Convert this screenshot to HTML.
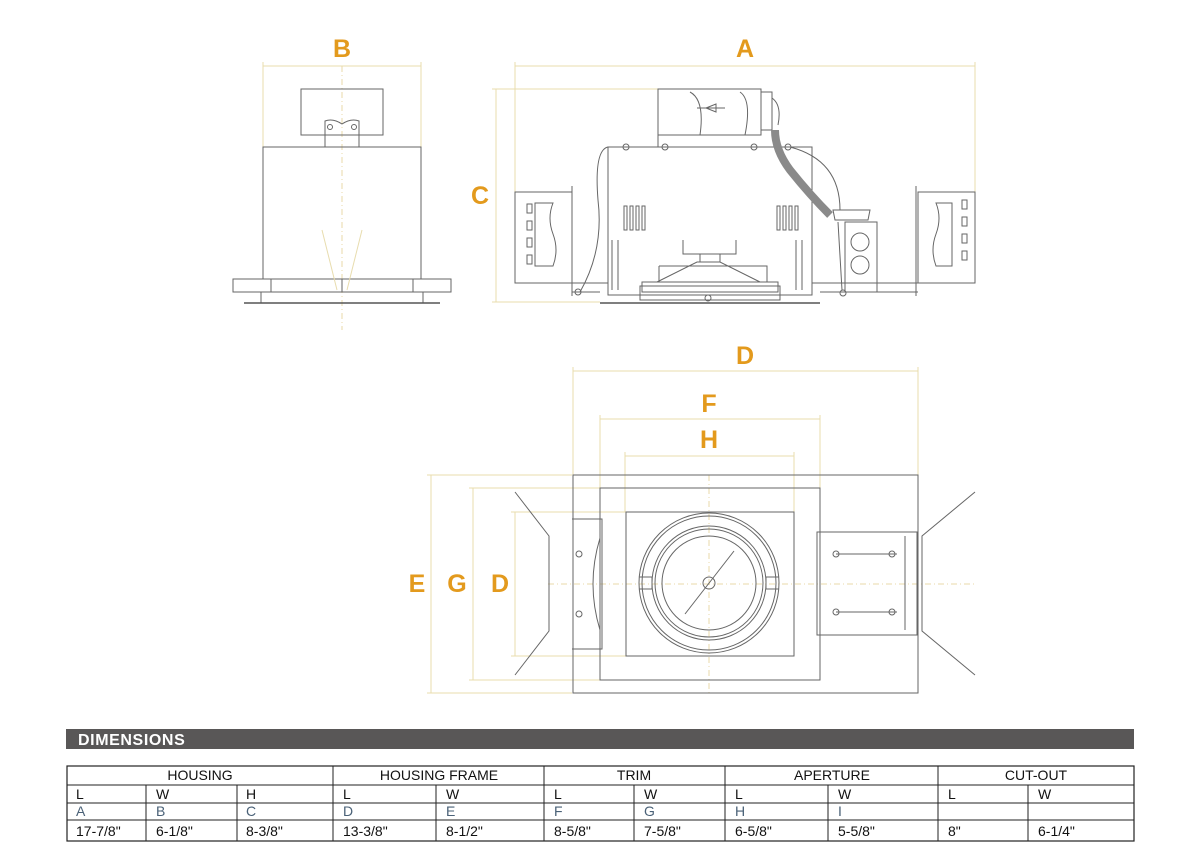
<!DOCTYPE html>
<html><head><meta charset="utf-8"><style>
html,body{margin:0;padding:0;background:#fff;}
svg{display:block;}
.l{fill:none;stroke:#666;stroke-width:1;}
.d{fill:none;stroke:#e8dcae;stroke-width:1;}
.c{fill:none;stroke:#ead9a8;stroke-width:1;stroke-dasharray:6 3 1 3;}
.lab{font-family:"Liberation Sans",sans-serif;font-weight:bold;font-size:25px;fill:#e39a1d;text-anchor:middle;}
.t{font-family:"Liberation Sans",sans-serif;font-size:14px;fill:#111;}
.tl{font-family:"Liberation Sans",sans-serif;font-size:14px;fill:#4a6177;}
</style></head><body>
<svg width="1200" height="863" viewBox="0 0 1200 863" xmlns="http://www.w3.org/2000/svg">
<!-- LEFT VIEW -->
<text class="lab" x="342" y="57">B</text>
<line class="d" x1="263" y1="66" x2="421" y2="66"/>
<line class="d" x1="263" y1="62" x2="263" y2="147"/><line class="d" x1="421" y1="62" x2="421" y2="147"/>
<line class="c" x1="342" y1="66" x2="342" y2="330"/>
<rect class="l" x="301" y="89" width="82" height="46"/>
<path class="l" d="M325 147 V121 Q333 118 342 124 Q351 118 359 121 V147"/>
<circle class="l" cx="330" cy="127" r="2.5"/><circle class="l" cx="354" cy="127" r="2.5"/>
<rect class="l" x="263" y="147" width="158" height="132"/>
<rect class="l" x="233" y="279" width="218" height="13"/>
<line class="l" x1="271" y1="279" x2="271" y2="292"/><line class="l" x1="342" y1="279" x2="342" y2="292"/><line class="l" x1="413" y1="279" x2="413" y2="292"/>
<path class="l" d="M261 292 V303 M423 292 V303"/>
<line x1="244" y1="303" x2="440" y2="303" stroke="#555" stroke-width="1.5"/>
<path class="d" d="M322 230 L337 290 M362 230 L347 290"/>

<!-- SIDE VIEW -->
<text class="lab" x="745" y="57">A</text>
<line class="d" x1="515" y1="66" x2="975" y2="66"/>
<line class="d" x1="515" y1="62" x2="515" y2="192"/><line class="d" x1="975" y1="62" x2="975" y2="192"/>
<text class="lab" x="480" y="204">C</text>
<line class="d" x1="496" y1="89" x2="496" y2="302"/>
<line class="d" x1="492" y1="89" x2="658" y2="89"/><line class="d" x1="492" y1="302" x2="600" y2="302"/>
<rect class="l" x="658" y="89" width="103" height="46"/>
<path class="l" d="M761 92 H772 V130 H761 M772 98 Q782 105 778 125"/>
<path class="l" d="M690 92 Q705 100 700 135 M740 92 Q752 100 745 135"/>
<path class="l" d="M697 108 H725 M706 108 L716 104 L716 112 Z"/>
<rect class="l" x="608" y="147" width="204" height="148"/>
<line class="l" x1="658" y1="135" x2="658" y2="147"/>
<circle class="l" cx="626" cy="147" r="3"/><circle class="l" cx="665" cy="147" r="3"/><circle class="l" cx="754" cy="147" r="3"/><circle class="l" cx="788" cy="147" r="3"/>
<path d="M775 130 Q775 150 790 170 Q810 195 830 215" fill="none" stroke="#8a8a8a" stroke-width="8"/>
<path class="l" d="M608 147 Q594 150 598 200 Q604 250 580 292 M790 147 Q840 160 840 210"/>
<!-- vents -->
<g class="l"><rect x="624" y="206" width="3" height="24"/><rect x="630" y="206" width="3" height="24"/><rect x="636" y="206" width="3" height="24"/><rect x="642" y="206" width="3" height="24"/>
<rect x="777" y="206" width="3" height="24"/><rect x="783" y="206" width="3" height="24"/><rect x="789" y="206" width="3" height="24"/><rect x="795" y="206" width="3" height="24"/></g>
<path class="l" d="M612 240 V290 M618 240 V290 M796 240 V290 M802 240 V290"/>
<path class="l" d="M683 240 V254 H736 V240 M700 254 V262 H720 V254"/>
<path class="l" d="M657 282 L697 262 H720 L760 282 M659 266 H767 V282 M659 266 V282"/>
<rect class="l" x="642" y="282" width="136" height="10"/>
<rect class="l" x="640" y="286" width="140" height="14"/>
<line x1="600" y1="303" x2="820" y2="303" stroke="#555" stroke-width="1.5"/>
<circle class="l" cx="708" cy="298" r="3"/>
<!-- left bracket -->
<rect class="l" x="515" y="192" width="57" height="91"/>
<line class="l" x1="572" y1="186" x2="572" y2="296"/>
<path class="l" d="M535 203 H553 Q547 218 553 234 Q559 250 553 266 H535 Z"/>
<g class="l"><rect x="527" y="204" width="5" height="9"/><rect x="527" y="221" width="5" height="9"/><rect x="527" y="238" width="5" height="9"/><rect x="527" y="255" width="5" height="9"/></g>
<path class="l" d="M572 283 H608 M572 292 H600 M812 283 H918 M820 292 H918"/>
<circle class="l" cx="578" cy="292" r="3"/>
<!-- junction box -->
<rect class="l" x="845" y="222" width="32" height="70"/>
<circle class="l" cx="860" cy="242" r="9"/><circle class="l" cx="860" cy="265" r="9"/>
<path class="l" d="M833 210 H870 L868 220 H835 Z M838 222 L842 290"/>
<circle class="l" cx="843" cy="293" r="3"/>
<!-- right bracket -->
<rect class="l" x="918" y="192" width="57" height="91"/>
<line class="l" x1="916" y1="186" x2="916" y2="296"/>
<path class="l" d="M952 203 H936 Q942 218 936 234 Q930 250 936 266 H952 Z"/>
<g class="l"><rect x="962" y="200" width="5" height="9"/><rect x="962" y="217" width="5" height="9"/><rect x="962" y="234" width="5" height="9"/><rect x="962" y="251" width="5" height="9"/></g>

<!-- BOTTOM VIEW -->
<text class="lab" x="745" y="364">D</text>
<line class="d" x1="573" y1="371" x2="918" y2="371"/>
<line class="d" x1="573" y1="367" x2="573" y2="475"/><line class="d" x1="918" y1="367" x2="918" y2="475"/>
<text class="lab" x="709" y="412">F</text>
<line class="d" x1="600" y1="419" x2="820" y2="419"/>
<line class="d" x1="600" y1="415" x2="600" y2="488"/><line class="d" x1="820" y1="415" x2="820" y2="488"/>
<text class="lab" x="709" y="448">H</text>
<line class="d" x1="625" y1="456" x2="794" y2="456"/>
<line class="d" x1="625" y1="452" x2="625" y2="512"/><line class="d" x1="794" y1="452" x2="794" y2="512"/>
<text class="lab" x="417" y="592">E</text><text class="lab" x="457" y="592">G</text><text class="lab" x="500" y="592">D</text>
<line class="d" x1="431" y1="475" x2="431" y2="693"/><line class="d" x1="427" y1="475" x2="572" y2="475"/><line class="d" x1="427" y1="693" x2="572" y2="693"/>
<line class="d" x1="473" y1="488" x2="473" y2="680"/><line class="d" x1="469" y1="488" x2="600" y2="488"/><line class="d" x1="469" y1="680" x2="600" y2="680"/>
<line class="d" x1="515" y1="512" x2="515" y2="656"/><line class="d" x1="511" y1="512" x2="626" y2="512"/><line class="d" x1="511" y1="656" x2="626" y2="656"/>
<line class="c" x1="548" y1="584" x2="975" y2="584"/>
<line class="c" x1="709" y1="475" x2="709" y2="693"/>
<rect class="l" x="573" y="475" width="345" height="218"/>
<rect class="l" x="600" y="488" width="220" height="192"/>
<rect class="l" x="626" y="512" width="168" height="144"/>
<circle class="l" cx="709" cy="583" r="70"/><circle class="l" cx="709" cy="583" r="67"/>
<circle class="l" cx="709" cy="583" r="57"/><circle class="l" cx="709" cy="583" r="54"/><circle class="l" cx="709" cy="583" r="47"/>
<circle class="l" cx="709" cy="583" r="6"/>
<line class="l" x1="685" y1="614" x2="734" y2="551"/>
<path class="l" d="M639 577 H652 V589 H639 M779 577 H766 V589 H779"/>
<!-- left plate & wings -->
<path class="l" d="M572 519 H602 V649 H572 M600 538 Q586 584 600 630"/>
<circle class="l" cx="579" cy="554" r="3"/><circle class="l" cx="579" cy="614" r="3"/>
<path class="l" d="M515 492 L549 536 V631 L515 675"/>
<!-- right plate & wings -->
<rect class="l" x="817" y="532" width="100" height="103"/>
<line class="l" x1="905" y1="536" x2="905" y2="630"/>
<path class="l" d="M836 554 H897 M836 612 H897"/>
<circle class="l" cx="836" cy="554" r="3"/><circle class="l" cx="836" cy="612" r="3"/>
<circle class="l" cx="892" cy="554" r="3"/><circle class="l" cx="892" cy="612" r="3"/>
<path class="l" d="M975 492 L922 536 V631 L975 675"/>

<!-- DIMENSIONS TABLE -->
<rect x="66" y="729" width="1068" height="20" fill="#595757"/>
<text x="78" y="745" font-family="Liberation Sans,sans-serif" font-weight="bold" font-size="16" letter-spacing="0.6" fill="#fff">DIMENSIONS</text>
<rect x="67" y="766" width="1067" height="75" fill="none" stroke="#222" stroke-width="1.2"/>
<g stroke="#222" stroke-width="1">
<line x1="67" y1="785" x2="1134" y2="785"/><line x1="67" y1="803" x2="1134" y2="803"/><line x1="67" y1="820" x2="1134" y2="820"/>
<line x1="333" y1="766" x2="333" y2="841"/><line x1="544" y1="766" x2="544" y2="841"/><line x1="725" y1="766" x2="725" y2="841"/><line x1="938" y1="766" x2="938" y2="841"/>
<line x1="146" y1="785" x2="146" y2="841"/><line x1="237" y1="785" x2="237" y2="841"/><line x1="436" y1="785" x2="436" y2="841"/><line x1="634" y1="785" x2="634" y2="841"/><line x1="828" y1="785" x2="828" y2="841"/><line x1="1028" y1="785" x2="1028" y2="841"/>
</g>
<g class="t" text-anchor="middle">
<text x="200" y="780">HOUSING</text><text x="439" y="780">HOUSING FRAME</text><text x="634" y="780">TRIM</text><text x="832" y="780">APERTURE</text><text x="1036" y="780">CUT-OUT</text>
</g>
<g class="t">
<text x="76" y="799">L</text><text x="156" y="799">W</text><text x="246" y="799">H</text><text x="343" y="799">L</text><text x="446" y="799">W</text><text x="554" y="799">L</text><text x="644" y="799">W</text><text x="735" y="799">L</text><text x="838" y="799">W</text><text x="948" y="799">L</text><text x="1038" y="799">W</text>
<text x="76" y="836">17-7/8"</text><text x="156" y="836">6-1/8"</text><text x="246" y="836">8-3/8"</text><text x="343" y="836">13-3/8"</text><text x="446" y="836">8-1/2"</text><text x="554" y="836">8-5/8"</text><text x="644" y="836">7-5/8"</text><text x="735" y="836">6-5/8"</text><text x="838" y="836">5-5/8"</text><text x="948" y="836">8"</text><text x="1038" y="836">6-1/4"</text>
</g>
<g class="tl">
<text x="76" y="816">A</text><text x="156" y="816">B</text><text x="246" y="816">C</text><text x="343" y="816">D</text><text x="446" y="816">E</text><text x="554" y="816">F</text><text x="644" y="816">G</text><text x="735" y="816">H</text><text x="838" y="816">I</text>
</g>
</svg>
</body></html>
